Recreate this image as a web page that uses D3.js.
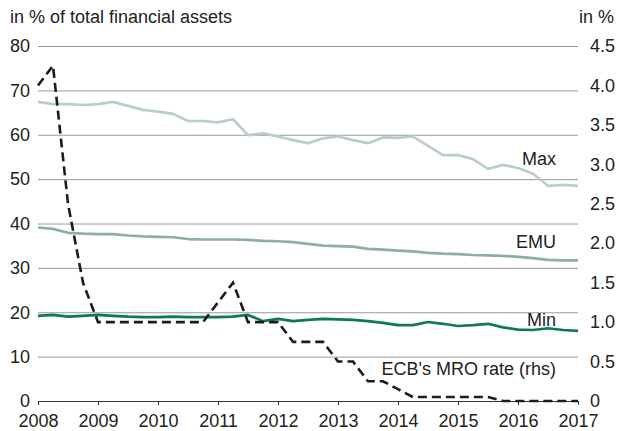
<!DOCTYPE html>
<html>
<head>
<meta charset="utf-8">
<script src="https://cdn.jsdelivr.net/npm/d3@7"></script>
<style>
  html, body { margin: 0; padding: 0; background: #fff; }
  svg { display: block; font-family: "Liberation Sans", Arial, Helvetica, sans-serif; }
</style>
</head>
<body>
<svg id="chart" width="622" height="431"></svg>
<script>
// Quarterly observations, 2008 to 2017
const quarters = [
  2008.00, 2008.25, 2008.50, 2008.75, 2009.00, 2009.25, 2009.50, 2009.75,
  2010.00, 2010.25, 2010.50, 2010.75, 2011.00, 2011.25, 2011.50, 2011.75,
  2012.00, 2012.25, 2012.50, 2012.75, 2013.00, 2013.25, 2013.50, 2013.75,
  2014.00, 2014.25, 2014.50, 2014.75, 2015.00, 2015.25, 2015.50, 2015.75,
  2016.00, 2016.25, 2016.50, 2016.75, 2017.00
];

// Share of total financial assets, in %
const maxShare = [
  67.4, 66.9, 66.9, 66.7, 66.9, 67.4, 66.5, 65.6,
  65.2, 64.7, 63.1, 63.1, 62.8, 63.5, 59.9, 60.3,
  59.6, 58.8, 58.1, 59.2, 59.6, 58.8, 58.1, 59.4,
  59.3, 59.6, 57.5, 55.4, 55.4, 54.5, 52.3, 53.2,
  52.5, 51.2, 48.5, 48.7, 48.5
];
const emuShare = [
  39.1, 38.8, 37.9, 37.7, 37.6, 37.6, 37.3, 37.1,
  37.0, 36.9, 36.5, 36.4, 36.4, 36.4, 36.3, 36.1,
  36.0, 35.8, 35.4, 35.0, 34.9, 34.8, 34.3, 34.1,
  33.9, 33.7, 33.4, 33.2, 33.1, 32.9, 32.8, 32.7,
  32.5, 32.2, 31.8, 31.7, 31.7
];
const minShare = [
  19.2, 19.4, 19.0, 19.2, 19.4, 19.2, 19.0, 18.9,
  18.9, 19.0, 18.9, 18.9, 18.9, 19.0, 19.4, 18.0,
  18.5, 18.0, 18.3, 18.5, 18.4, 18.3, 18.0, 17.6,
  17.1, 17.1, 17.8, 17.4, 16.9, 17.1, 17.4, 16.6,
  16.1, 16.0, 16.4, 16.0, 15.8
];
// ECB main refinancing operations rate, in % (right-hand scale)
const mroRate = [
  4.00, 4.25, 2.50, 1.50, 1.00, 1.00, 1.00, 1.00,
  1.00, 1.00, 1.00, 1.00, 1.25, 1.50, 1.00, 1.00,
  1.00, 0.75, 0.75, 0.75, 0.50, 0.50, 0.25, 0.25,
  0.15, 0.05, 0.05, 0.05, 0.05, 0.05, 0.05, 0.00,
  0.00, 0.00, 0.00, 0.00, 0.00
];

const yearTicks = [2008, 2009, 2010, 2011, 2012, 2013, 2014, 2015, 2016, 2017];
const leftTicks = [0, 10, 20, 30, 40, 50, 60, 70, 80];
const rightTicks = [0, 0.5, 1.0, 1.5, 2.0, 2.5, 3.0, 3.5, 4.0, 4.5];

const svg = d3.select("#chart");
const x = d3.scaleLinear().domain([2008, 2017]).range([38, 578]);
const yL = d3.scaleLinear().domain([0, 80]).range([401, 46]);
const yR = d3.scaleLinear().domain([0, 4.5]).range([401, 46]);

const fontSize = 18;
const textColor = "#222";

// Titles of the two scales
svg.append("text").attr("x", 10).attr("y", 23)
  .attr("font-size", fontSize).attr("fill", textColor)
  .text("in % of total financial assets");
svg.append("text").attr("x", 614).attr("y", 23).attr("text-anchor", "end")
  .attr("font-size", fontSize).attr("fill", textColor)
  .text("in %");

// Horizontal gridlines from the left scale
const grid = d3.axisLeft(yL).tickValues(leftTicks).tickSize(-(x.range()[1] - x.range()[0])).tickFormat("");
svg.append("g").attr("transform", `translate(${x.range()[0]},0)`).call(grid)
  .call(g => g.select(".domain").remove())
  .call(g => g.selectAll("line").attr("stroke", "#9a9a9a").attr("stroke-width", 1));

// Left tick labels
const leftAxis = d3.axisLeft(yL).tickValues(leftTicks).tickSize(0).tickPadding(8).tickFormat(d3.format("d"));
svg.append("g").attr("transform", `translate(${x.range()[0]},0)`).call(leftAxis)
  .call(g => g.select(".domain").remove())
  .call(g => g.selectAll("text").attr("font-size", fontSize).attr("fill", textColor)
    .attr("font-family", null));

// Right tick labels
const rightAxis = d3.axisRight(yR).tickValues(rightTicks).tickSize(0).tickPadding(12)
  .tickFormat(d => d === 0 ? "0" : d3.format(".1f")(d));
svg.append("g").attr("transform", `translate(${x.range()[1]},0)`).call(rightAxis)
  .call(g => g.select(".domain").remove())
  .call(g => g.selectAll("text").attr("font-size", fontSize).attr("fill", textColor)
    .attr("font-family", null));

// Bottom axis with year ticks
const xAxis = d3.axisBottom(x).tickValues(yearTicks).tickSize(4).tickSizeOuter(0).tickPadding(9)
  .tickFormat(d3.format("d"));
svg.append("g").attr("transform", `translate(0,${yL(0)})`).call(xAxis)
  .call(g => g.select(".domain").attr("stroke", "#333").attr("stroke-width", 1.2))
  .call(g => g.selectAll("line").attr("stroke", "#333"))
  .call(g => g.selectAll("text").attr("font-size", fontSize).attr("fill", textColor)
    .attr("font-family", null));

// Series lines
const lineL = d3.line().x((d, i) => x(quarters[i])).y(d => yL(d));
const lineR = d3.line().x((d, i) => x(quarters[i])).y(d => yR(d));

const series = [
  { values: maxShare, color: "#b9cfc6" },
  { values: emuShare, color: "#8eaea2" },
  { values: minShare, color: "#0a7a5a" }
];
series.forEach(s => {
  svg.append("path").datum(s.values).attr("d", lineL)
    .attr("fill", "none").attr("stroke", s.color).attr("stroke-width", 2.7)
    .attr("stroke-linejoin", "round");
});

svg.append("path").datum(mroRate).attr("d", lineR)
  .attr("fill", "none").attr("stroke", "#1c1c1c").attr("stroke-width", 2.6)
  .attr("stroke-dasharray", "9,5");

// Series labels
const labels = [
  { text: "Max", y: 165 },
  { text: "EMU", y: 248 },
  { text: "Min", y: 326 },
  { text: "ECB's MRO rate (rhs)", y: 375 }
];
svg.selectAll("text.series-label").data(labels).enter().append("text")
  .attr("class", "series-label")
  .attr("x", 556).attr("y", d => d.y).attr("text-anchor", "end")
  .attr("font-size", fontSize).attr("fill", textColor)
  .text(d => d.text);
</script>
</body>
</html>
